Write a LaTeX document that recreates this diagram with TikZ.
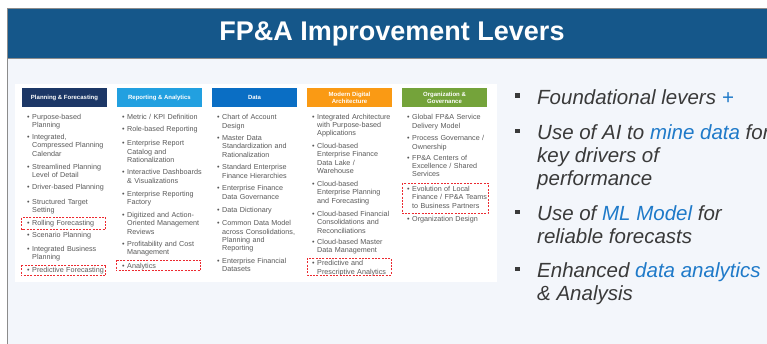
\documentclass[tikz,border=0pt]{standalone}
\usepackage{fontspec}
\setmainfont{Liberation Sans}[ItalicFont={Liberation Sans Italic},BoldFont={Liberation Sans Bold}]
\newfontfamily\rightfont{Liberation Sans Italic}
\definecolor{framegray}{HTML}{8C8C8C}
\definecolor{titlebg}{HTML}{15578A}
\definecolor{bodybg}{HTML}{F3F6FB}
\definecolor{cPF}{HTML}{1C3766}
\definecolor{cRA}{HTML}{22A0E0}
\definecolor{cDA}{HTML}{0A6EC4}
\definecolor{cMD}{HTML}{FA9A14}
\definecolor{cOG}{HTML}{74A33A}
\definecolor{itemgray}{HTML}{595959}
\definecolor{redbox}{HTML}{EC2A30}
\definecolor{darktext}{HTML}{3A3A3A}
\definecolor{hl}{HTML}{1F7AC9}
\newcommand{\bu}{\llap{\textbullet\hspace{2.5pt}}}
\begin{document}
\begin{tikzpicture}[x=1pt,y=-1pt,
  frame/.style={draw=framegray,line width=0.8pt},
  titletext/.style={text=white,font=\bfseries\fontsize{27}{30}\selectfont,inner sep=0},
  hdr/.style={minimum width=85pt,minimum height=19pt,inner sep=0,text=white,align=center,
     font=\bfseries\fontsize{6}{6.8}\selectfont},
  itm/.style={anchor=north west,text width=85pt,inner sep=0,align=left,text=itemgray,
     font=\fontsize{7.2}{8.3}\selectfont},
  dbox/.style={draw=redbox,dash pattern=on 2pt off 1.3pt,line width=0.75pt},
  sqb/.style={fill=darktext,minimum size=4.5pt,inner sep=0},
  rtxt/.style={anchor=base west,inner sep=0,text=darktext,font=\rightfont\fontsize{20.5}{23}\selectfont}
]
\useasboundingbox (0,0) rectangle (767,343);
\fill[white] (0,0) rectangle (767,343);
\draw[frame,fill=bodybg] (7,8) rectangle (800,360);
\draw[frame,fill=titlebg] (7,8) rectangle (800,58);
\node[titletext] (title) at (392,33.5) {FP\&A Improvement Levers};
\fill[white] (15,84) rectangle (497,282);
% headers
\node[hdr,fill=cPF] (h1) at (64.5,97.5) {Planning \& Forecasting};
\node[hdr,fill=cRA] (h2) at (159.5,97.5) {Reporting \& Analytics};
\node[hdr,fill=cDA] (h3) at (254.5,97.5) {Data};
\node[hdr,fill=cMD] (h4) at (349.5,97.5) {Modern Digital\\Architecture};
\node[hdr,fill=cOG] (h5) at (444.5,97.5) {Organization \&\\Governance};
% column 1
\node[itm] (a1) at (32,113.9) {\bu Purpose-based\\Planning};
\node[itm] (a2) at (32,134.2) {\bu Integrated,\\Compressed Planning\\Calendar};
\node[itm] (a3) at (32,164.2) {\bu Streamlined Planning\\Level of Detail};
\node[itm] (a4) at (32,184.5) {\bu Driver-based Planning};
\node[itm] (a5) at (32,198.9) {\bu Structured Target\\Setting};
\node[itm] (a6) at (32,220.5) {\bu Rolling Forecasting};
\node[itm] (a7) at (32,232.2) {\bu Scenario Planning};
\node[itm] (a8) at (32,246.2) {\bu Integrated Business\\Planning};
\node[itm] (a9) at (32,267.2) {\bu Predictive Forecasting};
% column 2
\node[itm] (b1) at (127,114.5) {\bu Metric / KPI Definition};
\node[itm] (b2) at (127,126.5) {\bu Role-based Reporting};
\node[itm] (b3) at (127,140.5) {\bu Enterprise Report\\Catalog and\\Rationalization};
\node[itm] (b4) at (127,169.5) {\bu Interactive Dashboards\\\& Visualizations};
\node[itm] (b5) at (127,191.2) {\bu Enterprise Reporting\\Factory};
\node[itm] (b6) at (127,212.2) {\bu Digitized and Action-\\Oriented Management\\Reviews};
\node[itm] (b7) at (127,241.2) {\bu Profitability and Cost\\Management};
\node[itm] (b8) at (127,262.9) {\bu Analytics};
% column 3
\node[itm] (c1) at (222,114.5) {\bu Chart of Account\\Design};
\node[itm] (c2) at (222,135.5) {\bu Master Data\\Standardization and\\Rationalization};
\node[itm] (c3) at (222,164.5) {\bu Standard Enterprise\\Finance Hierarchies};
\node[itm] (c4) at (222,185.5) {\bu Enterprise Finance\\Data Governance};
\node[itm] (c5) at (222,207.2) {\bu Data Dictionary};
\node[itm] (c6) at (222,220.5) {\bu Common Data Model\\across Consolidations,\\Planning and\\Reporting};
\node[itm] (c7) at (222,258.2) {\bu Enterprise Financial\\Datasets};
% column 4
\node[itm] (d1) at (317,113.9) {\bu Integrated Architecture\\with Purpose-based\\Applications};
\node[itm] (d2) at (317,143.2) {\bu Cloud-based\\Enterprise Finance\\Data Lake /\\Warehouse};
\node[itm] (d3) at (317,181.2) {\bu Cloud-based\\Enterprise Planning\\and Forecasting};
\node[itm] (d4) at (317,211.2) {\bu Cloud-based Financial\\Consolidations and\\Reconciliations};
\node[itm] (d5) at (317,238.9) {\bu Cloud-based Master\\Data Management};
\node[itm] (d6) at (317,260.5) {\bu Predictive and\\Prescriptive Analytics};
% column 5
\node[itm] (e1) at (412,114.5) {\bu Global FP\&A Service\\Delivery Model};
\node[itm] (e2) at (412,135.5) {\bu Process Governance /\\Ownership};
\node[itm] (e3) at (412,154.9) {\bu FP\&A Centers of\\Excellence / Shared\\Services};
\node[itm] (e4) at (412,186.2) {\bu Evolution of Local\\Finance / FP\&A Teams\\to Business Partners};
\node[itm] (e5) at (412,216.2) {\bu Organization Design};
% dashed highlight boxes
\draw[dbox] (21.7,217.7) rectangle (105.7,229.3);
\draw[dbox] (21,265) rectangle (105.7,275.5);
\draw[dbox] (116,260) rectangle (200.7,270.7);
\draw[dbox] (307,258) rectangle (391,275);
\draw[dbox] (402,183.3) rectangle (488,213.3);
% right side
\node[sqb] (q1) at (517.5,95.5) {};
\node[sqb] (q2) at (517.5,131) {};
\node[sqb] (q3) at (517.5,212) {};
\node[sqb] (q4) at (517.5,269) {};
\node[rtxt] (f1) at (537,104) {Foundational levers \textcolor{hl}{+}};
\node[rtxt] (g1) at (537,139.3) {Use of AI to \textcolor{hl}{mine data} for};
\node[rtxt] (g2) at (537,162) {key drivers of};
\node[rtxt] (g3) at (537,185) {performance};
\node[rtxt] (k1) at (537,220) {Use of \textcolor{hl}{ML Model} for};
\node[rtxt] (k2) at (537,243.3) {reliable forecasts};
\node[rtxt] (m1) at (537,277.3) {Enhanced \textcolor{hl}{data analytics}};
\node[rtxt] (m2) at (537,300.7) {\& Analysis};
\end{tikzpicture}
\end{document}
